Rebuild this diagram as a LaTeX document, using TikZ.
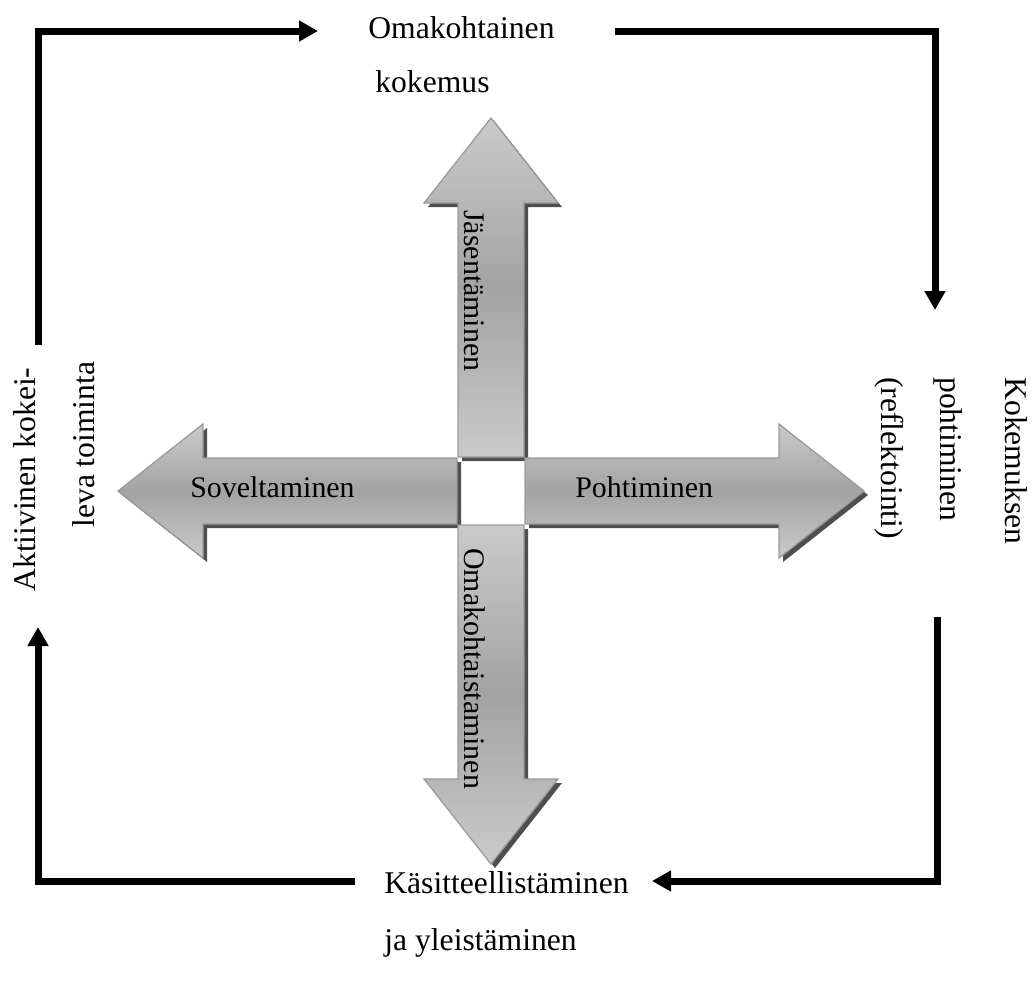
\documentclass[tikz,border=0pt]{standalone}
\usepackage{fontspec}
\setmainfont{Liberation Serif}
\usepackage{tikz}
\usetikzlibrary{calc}
\usetikzlibrary{arrows.meta}
\usetikzlibrary{positioning}
\definecolor{arrlight}{HTML}{CACACA}
\definecolor{arrdark}{HTML}{A3A3A3}
\definecolor{arrshadow}{HTML}{4F4F4F}
\definecolor{arrborder}{HTML}{9A9A9A}
\tikzset{cycle/.style={line width=1.4mm,-{Triangle[width=4mm,length=3.8mm]}}}
\tikzset{outer/.style={inner sep=0pt,font=\fontsize{18}{22}\selectfont}}
\tikzset{inner/.style={inner sep=0pt,font=\fontsize{17}{20}\selectfont}}
\tikzset{bigarrow/.style={draw=arrborder,line width=0.25mm,top color=arrlight,bottom color=arrlight,middle color=arrdark}}
\tikzset{bigshadow/.style={fill=arrshadow}}
% outline of one arm of the cross: #1/#2 = direction, #3 = centre
\newcommand{\armpath}[3]{({#3+34*#1+33*#2},{#3+34*#2-33*#1}) -- ({#3+288*#1+33*#2},{#3+288*#2-33*#1}) -- ({#3+288*#1+67*#2},{#3+288*#2-67*#1}) -- ({#3+373*#1},{#3+373*#2}) -- ({#3+288*#1-67*#2},{#3+288*#2+67*#1}) -- ({#3+288*#1-33*#2},{#3+288*#2+33*#1}) -- ({#3+34*#1-33*#2},{#3+34*#2+33*#1}) -- cycle}

\begin{document}
\begin{tikzpicture}[x=0.2mm,y=-0.2mm]
\useasboundingbox (0,0) rectangle (1034,981);

\foreach \dx / \dy in {0/-1,0/1,-1/0,1/0}
{
	\fill[bigshadow] \armpath{\dx}{\dy}{495};
}
\foreach \dx / \dy in {0/-1,0/1,-1/0,1/0}
{
	\path[bigarrow] \armpath{\dx}{\dy}{491};
}

\node[inner,anchor=base west,rotate=-90] (jas) at (464,210) {Jäsentäminen};
\node[inner,anchor=base west,rotate=-90] (oma) at (464,548) {Omakohtaistaminen};
\node[inner,anchor=base west] (sov) at (190,497) {Soveltaminen};
\node[inner,anchor=base west] (poh) at (575,497) {Pohtiminen};

\node[outer,anchor=base west] (kok1) at (368,38) {Omakohtainen};
\node[outer,anchor=base west] (kok2) at (375,92) {kokemus};
\node[outer,anchor=base west,rotate=-90] (ref1) at (1005,377) {Kokemuksen};
\node[outer,anchor=base west,rotate=-90] (ref2) at (940,377) {pohtiminen};
\node[outer,anchor=base west,rotate=-90] (ref3) at (881,377) {(reflektointi)};
\node[outer,anchor=base west] (kas1) at (384,893) {Käsitteellistäminen};
\node[outer,anchor=base west] (kas2) at (384,950) {ja yleistäminen};
\node[outer,anchor=base west,rotate=90] (akt1) at (36,592) {Aktiivinen kokei-};
\node[outer,anchor=base west,rotate=90] (akt2) at (94,528) {leva toiminta};

\coordinate (c1) at (38,345);
\coordinate (c2) at (318,31);
\coordinate (c3) at (615,31);
\coordinate (c4) at (935,310);
\coordinate (c5) at (937,617);
\coordinate (c6) at (652,881);
\coordinate (c7) at (355,881);
\coordinate (c8) at (38,627);

\draw[cycle] (c1) |- (c2);
\draw[cycle] (c3) -| (c4);
\draw[cycle] (c5) |- (c6);
\draw[cycle] (c7) -| (c8);

\end{tikzpicture}
\end{document}
